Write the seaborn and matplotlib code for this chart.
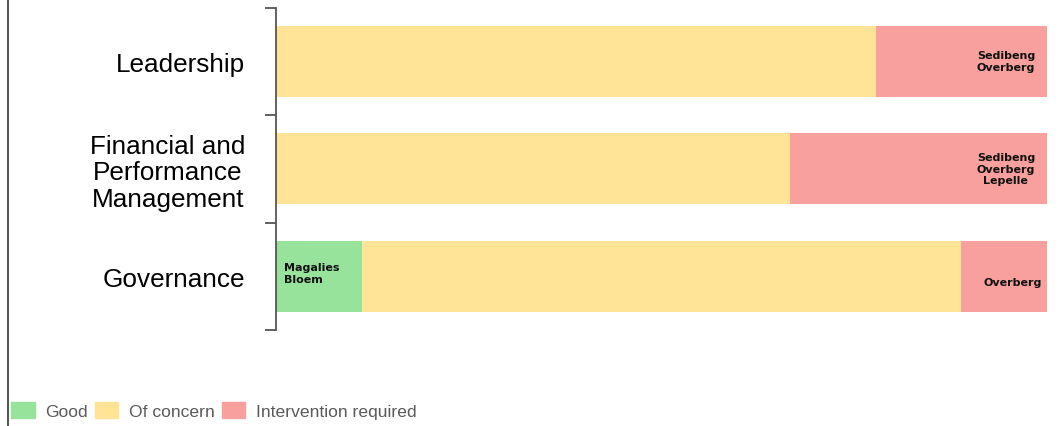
import matplotlib
matplotlib.use("Agg")
import matplotlib.pyplot as plt
import matplotlib.patches as mpatches
from matplotlib.lines import Line2D
import numpy as np
import pandas as pd
import seaborn as sns

# data: number of districts per rating (9 in total)
categories = ["Leadership", "Financial and\nPerformance\nManagement", "Governance"]
good = [0, 0, 1]
of_concern = [7, 6, 7]
intervention = [2, 3, 1]
good_names = ["", "", "Magalies\nBloem"]
intervention_names = ["Sedibeng\nOverberg", "Sedibeng\nOverberg\nLepelle", "Overberg"]

COLORS = {
    'good': '#98e39c',
    'concern': '#ffe397',
    'intervention': '#f8a09e',
}

sns.set_style("white")
plt.rcParams['font.family'] = ['Liberation Sans', 'DejaVu Sans']

df = pd.DataFrame({
    'category': categories,
    'good': good,
    'concern': of_concern,
    'intervention': intervention,
})
df['c_good'] = df['good']
df['c_concern'] = df['good'] + df['concern']
df['c_total'] = df['c_concern'] + df['intervention']

fig = plt.figure(figsize=(10.59, 4.27), dpi=100)
ax = fig.add_axes([276 / 1059, 1 - 331 / 427, (1047 - 276) / 1059, (331 - 8.5) / 427])

# stacked bars drawn back to front
for col, key in [('c_total', 'intervention'), ('c_concern', 'concern'), ('c_good', 'good')]:
    sns.barplot(data=df, x=col, y='category', orient='h', color=COLORS[key],
                width=0.664, saturation=1, ax=ax, edgecolor='none')

ax.set_xlim(0, df['c_total'].max())
ax.set_ylim(2.5, -0.5)
ax.set_xlabel("")
ax.set_ylabel("")
ax.set_xticks([])

# labels at centres, tick marks at boundaries
ax.set_yticks([-0.5, 0.5, 1.5, 2.5])
ax.set_yticklabels([])
ax.set_yticks(range(len(categories)), minor=True)
ax.set_yticklabels(categories, minor=True, fontsize=18.8, ha='right',
                   multialignment='center', color='black', linespacing=1.12)
ax.tick_params(axis='y', which='major', length=8, width=1.3, color='#555555', left=True)
ax.tick_params(axis='y', which='minor', length=0, pad=22)

sns.despine(ax=ax, top=True, right=True, bottom=True, left=False)
ax.spines['left'].set_color('#555555')
ax.spines['left'].set_linewidth(1.3)

# segment annotations
for i, row in df.iterrows():
    if intervention_names[i]:
        dx = 0.4 if row['intervention'] == 1 else 0.48
        dy = 0.05 if row['intervention'] == 1 else 0
        ax.text(row['c_total'] - dx, i + dy, intervention_names[i], ha='center', va='center',
                fontsize=8, fontweight='bold', color='#111111', linespacing=1.2,
                family='DejaVu Sans')
    if good_names[i]:
        ax.text(0.09, i - 0.03, good_names[i], ha='left', va='center',
                fontsize=8, fontweight='bold', color='#111111', linespacing=1.2,
                family='DejaVu Sans')

# left border line of the figure
fig.add_artist(Line2D([7.5 / 1059, 7.5 / 1059], [0, 1], transform=fig.transFigure,
                      color='#444444', linewidth=1.3))

handles = [mpatches.Patch(color=COLORS['good'], label='Good'),
           mpatches.Patch(color=COLORS['concern'], label='Of concern'),
           mpatches.Patch(color=COLORS['intervention'], label='Intervention required')]
leg = fig.legend(handles=handles, loc='lower left', bbox_to_anchor=(11 / 1059, 7 / 427),
                 ncol=3, frameon=False, fontsize=12.6, handlelength=1.35, handleheight=0.95,
                 handletextpad=0.6, columnspacing=0.4, borderpad=0, borderaxespad=0)
for t in leg.get_texts():
    t.set_color('#5a5a5a')

fig.savefig("out.png", dpi=100)
